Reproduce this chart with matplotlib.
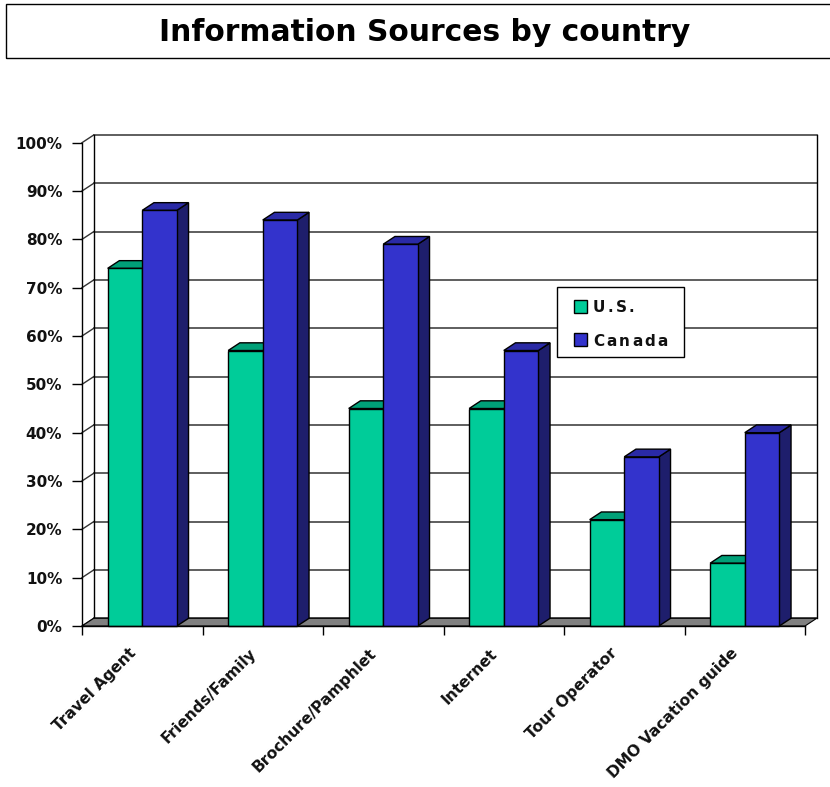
import matplotlib
matplotlib.use('Agg')
import matplotlib.pyplot as plt
from matplotlib.patches import Polygon, Rectangle

# ---- data -------------------------------------------------------------
categories = ['Travel Agent', 'Friends/Family', 'Brochure/Pamphlet',
              'Internet', 'Tour Operator', 'DMO Vacation guide']
us_share = [74, 57, 45, 45, 22, 13]
canada_share = [86, 84, 79, 57, 35, 40]
series_names = ['U.S.', 'Canada']
y_ticks = list(range(0, 101, 10))
y_tick_labels = [f'{v}%' for v in y_ticks]
title = 'Information Sources by country'

# ---- styling ----------------------------------------------------------
plt.rcParams['font.family'] = ['DejaVu Sans']
FONT = dict(fontsize=11, fontweight='bold', color='#111111')
CAT_FONT = dict(fontsize=11.2, fontweight='bold', color='#111111')
US_COLORS = ('#00CC99', '#00A078', '#006B50')       # front, top, side
CA_COLORS = ('#3333CC', '#2A2AA6', '#1E1E6C')
GRID = '#333333'
FLOOR = '#808080'

W, H, DPI = 830, 787, 100
fig = plt.figure(figsize=(W / DPI, H / DPI), dpi=DPI)
fig.patch.set_facecolor('white')

# front plane of the plot area (pixels)
X0, X1 = 82, 805
Y0, Y100 = 626, 142.7
n = len(categories)
ax = fig.add_axes([X0 / W, 1 - Y0 / H, (X1 - X0) / W, (Y0 - Y100) / H])
ax.set_xlim(0, n)
ax.set_ylim(0, 100)
ax.patch.set_visible(False)

# 3-D depth expressed in data units
DX = 11.7 / ((X1 - X0) / n)
DY = 7.7 / ((Y0 - Y100) / 100)

# ---- walls ------------------------------------------------------------
for v in y_ticks:
    ax.plot([DX, n + DX], [v + DY, v + DY], color=GRID, lw=1.1,
            clip_on=False, zorder=1)
    ax.plot([0, DX], [v, v + DY], color=GRID, lw=1.0, clip_on=False, zorder=1)
ax.plot([DX, DX], [DY, 100 + DY], color='black', lw=1.0, clip_on=False, zorder=1)
ax.plot([n + DX, n + DX], [DY, 100 + DY], color='black', lw=1.0,
        clip_on=False, zorder=1)

# floor
ax.add_patch(Polygon([(0, 0), (n, 0), (n + DX, DY), (DX, DY)], closed=True,
                     facecolor=FLOOR, edgecolor='black', lw=0.8,
                     clip_on=False, zorder=2))

# ---- bars -------------------------------------------------------------
BAR_W = 0.287
OFFSETS = (0.213, 0.5)


def bar3d(x, v, colors, z):
    front, top, side = colors
    ax.add_patch(Polygon([(x + BAR_W, 0), (x + BAR_W + DX, DY),
                          (x + BAR_W + DX, v + DY), (x + BAR_W, v)],
                         closed=True, facecolor=side, edgecolor='black',
                         lw=1.0, clip_on=False, zorder=z))
    ax.add_patch(Polygon([(x, v), (x + BAR_W, v), (x + BAR_W + DX, v + DY),
                          (x + DX, v + DY)], closed=True, facecolor=top,
                         edgecolor='black', lw=1.0, clip_on=False, zorder=z))
    ax.add_patch(Rectangle((x, 0), BAR_W, v, facecolor=front,
                           edgecolor='black', lw=1.0, clip_on=False,
                           zorder=z + 0.05))


for i in range(n):
    bar3d(i + OFFSETS[0], us_share[i], US_COLORS, 3.0)
    bar3d(i + OFFSETS[1], canada_share[i], CA_COLORS, 3.2)

# ---- axes -------------------------------------------------------------
for side in ('top', 'right'):
    ax.spines[side].set_visible(False)
for side in ('left', 'bottom'):
    ax.spines[side].set_color('black')
    ax.spines[side].set_linewidth(1.0)
    ax.spines[side].set_zorder(5)

ax.set_yticks(y_ticks)
ax.set_yticklabels(y_tick_labels, **FONT)
ax.tick_params(axis='y', direction='out', length=7.2, width=1.0,
               color='black', pad=7)
ax.set_xticks(range(n + 1))
ax.set_xticklabels([])
ax.tick_params(axis='x', direction='out', length=6.5, width=1.0, color='black')

for i, cat in enumerate(categories):
    ax.annotate(cat, xy=(i + 0.5, 0), xycoords='data',
                xytext=(-9, -25), textcoords='offset pixels',
                rotation=45, rotation_mode='anchor', ha='right',
                va='center', annotation_clip=False, **CAT_FONT)

# ---- title ------------------------------------------------------------
fig.patches.append(Rectangle((6 / W, 1 - 58 / H), 840 / W, 54 / H,
                             transform=fig.transFigure, fill=False,
                             edgecolor='black', lw=1.0))
fig.text(425 / W, 1 - 41 / H, title, ha='center', va='baseline',
         fontsize=21.4, fontweight='bold', color='black')

# ---- legend -----------------------------------------------------------
fig.patches.append(Rectangle((557 / W, 1 - 357 / H), 127 / W, 70 / H,
                             transform=fig.transFigure, facecolor='white',
                             edgecolor='black', lw=1.0, zorder=6))
renderer = fig.canvas.get_renderer()


def spaced_text(x_px, base_px, s, gap_px):
    x = x_px
    for ch in s:
        t = fig.text(x / W, 1 - base_px / H, ch, ha='left', va='baseline',
                     zorder=7, **FONT)
        x = t.get_window_extent(renderer).x1 + gap_px


for name, colors, sq_top in zip(series_names, (US_COLORS, CA_COLORS), (300, 333.3)):
    fig.patches.append(Rectangle((574 / W, 1 - (sq_top + 12.5) / H),
                                 12.5 / W, 12.5 / H,
                                 transform=fig.transFigure,
                                 facecolor=colors[0], edgecolor='black',
                                 lw=1.0, zorder=7))
    spaced_text(593, sq_top + 12.3, name, 2.2)

fig.savefig('out.png', dpi=DPI, facecolor='white')
